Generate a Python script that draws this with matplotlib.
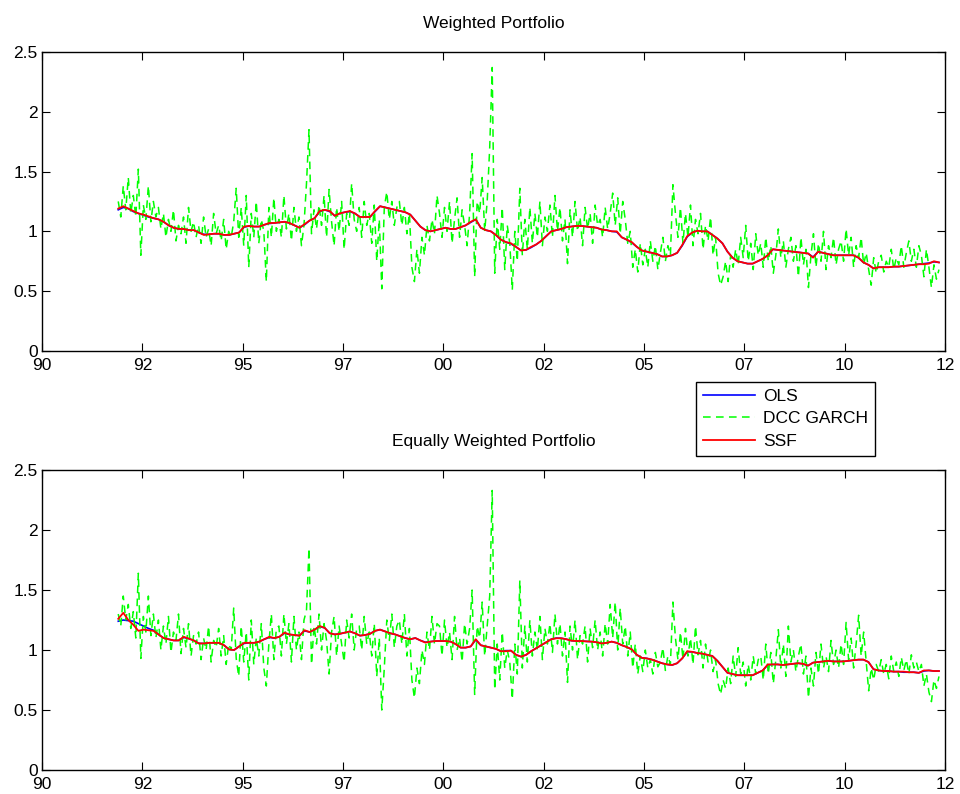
import numpy as np
import matplotlib
matplotlib.use('Agg')
import matplotlib.pyplot as plt

plt.rcParams['font.family'] = ['Liberation Sans', 'DejaVu Sans']
plt.rcParams['font.size'] = 12.5

# hedge ratio estimates, sampled from late 1991 to mid 2012
start, end = 1991.9, 2012.35

# weighted portfolio
ols_w = [1.18, 1.20, 1.19, 1.165, 1.15, 1.135, 1.12, 1.11,
         1.10, 1.08, 1.05, 1.03, 1.02, 1.02, 1.01, 1.01,
         0.99, 0.975, 0.975, 0.98, 0.98, 0.97, 0.97, 0.98,
         0.99, 1.035, 1.045, 1.04, 1.04, 1.055, 1.065, 1.07,
         1.075, 1.08, 1.07, 1.05, 1.03, 1.055, 1.09, 1.11,
         1.165, 1.18, 1.165, 1.13, 1.15, 1.16, 1.165, 1.15,
         1.12, 1.12, 1.12, 1.165, 1.21, 1.20, 1.19, 1.18,
         1.17, 1.16, 1.14, 1.09, 1.04, 1.01, 1.00, 1.01,
         1.02, 1.03, 1.02, 1.02, 1.035, 1.05, 1.075, 1.10,
         1.03, 1.01, 1.00, 0.97, 0.93, 0.91, 0.895, 0.87,
         0.84, 0.845, 0.865, 0.89, 0.92, 0.96, 1.00, 1.01,
         1.02, 1.035, 1.04, 1.045, 1.045, 1.04, 1.035, 1.03,
         1.015, 1.01, 1.00, 0.995, 0.95, 0.93, 0.905, 0.87,
         0.84, 0.83, 0.82, 0.81, 0.79, 0.79, 0.80, 0.82,
         0.88, 0.955, 0.99, 1.005, 1.00, 1.00, 0.97, 0.94,
         0.90, 0.83, 0.78, 0.75, 0.74, 0.73, 0.73, 0.75,
         0.77, 0.80, 0.85, 0.845, 0.84, 0.835, 0.83, 0.825,
         0.82, 0.815, 0.785, 0.83, 0.82, 0.81, 0.80, 0.80,
         0.80, 0.80, 0.80, 0.78, 0.74, 0.72, 0.69, 0.70,
         0.70, 0.70, 0.705, 0.705, 0.71, 0.715, 0.72, 0.725,
         0.73, 0.735, 0.745, 0.74]

ssf_w = [1.19, 1.21, 1.19, 1.17, 1.15, 1.14, 1.125, 1.11,
         1.10, 1.08, 1.05, 1.03, 1.02, 1.02, 1.01, 1.01,
         0.99, 0.97, 0.975, 0.98, 0.98, 0.97, 0.97, 0.98,
         0.99, 1.04, 1.045, 1.04, 1.04, 1.055, 1.07, 1.07,
         1.075, 1.08, 1.07, 1.05, 1.03, 1.06, 1.09, 1.11,
         1.17, 1.18, 1.17, 1.13, 1.15, 1.16, 1.17, 1.15,
         1.12, 1.12, 1.12, 1.17, 1.21, 1.20, 1.19, 1.18,
         1.17, 1.16, 1.14, 1.09, 1.04, 1.01, 1.00, 1.01,
         1.02, 1.03, 1.02, 1.02, 1.035, 1.05, 1.08, 1.10,
         1.03, 1.01, 1.00, 0.97, 0.93, 0.91, 0.90, 0.87,
         0.84, 0.845, 0.87, 0.89, 0.92, 0.96, 1.00, 1.01,
         1.02, 1.035, 1.04, 1.045, 1.045, 1.04, 1.035, 1.03,
         1.015, 1.01, 1.00, 1.00, 0.95, 0.93, 0.91, 0.87,
         0.84, 0.83, 0.82, 0.81, 0.79, 0.79, 0.80, 0.82,
         0.885, 0.96, 0.99, 1.005, 1.00, 1.00, 0.97, 0.94,
         0.90, 0.83, 0.78, 0.75, 0.74, 0.73, 0.73, 0.75,
         0.77, 0.80, 0.85, 0.845, 0.84, 0.835, 0.83, 0.825,
         0.82, 0.815, 0.78, 0.83, 0.82, 0.81, 0.80, 0.80,
         0.80, 0.80, 0.80, 0.78, 0.74, 0.72, 0.69, 0.70,
         0.70, 0.70, 0.705, 0.705, 0.71, 0.715, 0.72, 0.725,
         0.725, 0.73, 0.75, 0.74]

dcc_w = [1.25, 1.12, 1.38, 1.18, 1.45, 1.15, 1.30, 1.12, 1.52, 0.80, 1.22, 1.10, 1.38, 1.08, 1.25, 1.12,
         1.20, 1.02, 1.15, 0.95, 1.10, 1.00, 1.18, 0.92, 1.05, 0.98, 1.12, 0.90, 1.20, 1.00, 1.08, 0.95,
         1.05, 0.90, 1.12, 0.95, 1.02, 0.88, 1.15, 0.98, 1.05, 0.92, 1.10, 0.85, 1.00, 0.95, 1.08, 1.36,
         0.95, 1.20, 0.88, 1.30, 0.70, 1.15, 0.95, 1.25, 0.90, 1.10, 1.00, 0.58, 1.20, 0.95, 1.28, 1.00,
         1.10, 0.95, 1.30, 1.02, 1.15, 0.92, 1.20, 1.00, 1.12, 0.88, 1.05, 1.40, 1.85, 0.98, 1.18, 1.02,
         1.22, 1.05, 1.30, 0.95, 1.35, 1.08, 0.88, 1.20, 1.00, 1.25, 0.85, 1.15, 1.05, 1.40, 1.10, 1.00,
         1.20, 0.95, 1.25, 1.05, 1.15, 0.90, 1.22, 0.75, 1.10, 0.52, 1.20, 1.33, 1.10, 1.25, 1.05, 1.20,
         1.25, 1.05, 1.20, 0.98, 1.15, 0.70, 0.58, 0.85, 0.65, 0.95, 0.80, 1.05, 0.92, 1.10, 0.98, 1.30,
         1.15, 0.95, 1.20, 1.00, 1.25, 0.90, 1.10, 1.28, 0.95, 1.18, 1.05, 0.88, 1.15, 1.65, 0.62, 1.25,
         1.15, 1.45, 1.00, 1.25, 1.70, 2.37, 0.65, 1.10, 0.85, 1.20, 0.68, 1.05, 0.90, 0.51, 1.00, 0.75,
         1.36, 0.80, 1.10, 0.85, 1.20, 0.90, 1.15, 0.95, 1.25, 0.88, 1.12, 1.00, 1.22, 0.95, 1.30, 1.00,
         1.20, 0.92, 1.10, 0.73, 1.18, 0.95, 1.25, 1.00, 1.12, 0.88, 1.20, 1.02, 1.15, 0.90, 1.22, 1.05,
         1.10, 0.95, 1.20, 1.02, 1.15, 1.32, 1.05, 1.28, 0.98, 1.25, 1.10, 0.90, 1.00, 0.70, 0.85, 0.66,
         0.90, 0.72, 0.85, 0.70, 0.92, 0.75, 0.88, 0.68, 0.82, 0.95, 0.75, 0.88, 0.80, 1.39, 1.15, 0.95,
         1.20, 0.90, 1.15, 0.95, 1.22, 0.88, 1.10, 0.98, 1.15, 0.85, 1.05, 0.92, 1.12, 0.80, 0.95, 0.65,
         0.55, 0.62, 0.75, 0.58, 0.80, 0.70, 0.85, 0.72, 0.95, 0.78, 1.05, 0.75, 0.90, 0.68, 0.98, 0.80,
         0.90, 0.70, 0.95, 0.75, 0.88, 0.65, 0.80, 1.02, 0.78, 0.92, 0.70, 0.85, 0.95, 0.75, 0.88, 0.62,
         0.95, 0.72, 0.85, 0.53, 0.80, 0.98, 0.70, 0.90, 0.75, 1.00, 0.68, 0.88, 0.78, 0.95, 0.72, 0.85,
         0.92, 0.75, 1.02, 0.80, 0.95, 0.70, 0.88, 0.78, 0.95, 0.72, 0.82, 0.68, 0.55, 0.78, 0.65, 0.75,
         0.80, 0.66, 0.75, 0.70, 0.85, 0.68, 0.78, 0.72, 0.88, 0.70, 0.82, 0.92, 0.75, 0.85, 0.70, 0.88,
         0.80, 0.62, 0.85, 0.70, 0.53, 0.72, 0.60, 0.68]

# equally weighted portfolio
ols_e = [1.24, 1.25, 1.245, 1.24, 1.22, 1.20, 1.18, 1.165,
         1.13, 1.10, 1.09, 1.08, 1.08, 1.105, 1.095, 1.08,
         1.055, 1.055, 1.06, 1.06, 1.06, 1.04, 1.005, 1.00,
         1.03, 1.055, 1.06, 1.06, 1.07, 1.09, 1.105, 1.10,
         1.11, 1.14, 1.13, 1.125, 1.12, 1.16, 1.15, 1.17,
         1.195, 1.185, 1.14, 1.13, 1.135, 1.145, 1.155, 1.14,
         1.12, 1.125, 1.135, 1.16, 1.17, 1.155, 1.14, 1.13,
         1.115, 1.10, 1.09, 1.10, 1.08, 1.065, 1.07, 1.075,
         1.075, 1.075, 1.07, 1.05, 1.02, 1.02, 1.03, 1.085,
         1.04, 1.03, 1.02, 1.01, 0.99, 0.995, 0.995, 0.96,
         0.945, 0.96, 0.99, 1.015, 1.04, 1.065, 1.09, 1.10,
         1.098, 1.09, 1.078, 1.075, 1.075, 1.072, 1.07, 1.065,
         1.055, 1.06, 1.07, 1.06, 1.04, 1.025, 1.005, 0.96,
         0.935, 0.93, 0.92, 0.905, 0.89, 0.88, 0.875, 0.89,
         0.93, 0.985, 0.985, 0.975, 0.97, 0.96, 0.95, 0.91,
         0.86, 0.81, 0.80, 0.79, 0.79, 0.79, 0.79, 0.81,
         0.83, 0.875, 0.88, 0.88, 0.875, 0.88, 0.885, 0.89,
         0.885, 0.87, 0.895, 0.90, 0.905, 0.91, 0.905, 0.905,
         0.905, 0.91, 0.915, 0.92, 0.92, 0.90, 0.84, 0.83,
         0.825, 0.825, 0.82, 0.82, 0.815, 0.815, 0.815, 0.81,
         0.825, 0.83, 0.825, 0.825]

ssf_e = [1.26, 1.31, 1.25, 1.21, 1.16, 1.17, 1.165, 1.16,
         1.13, 1.10, 1.09, 1.08, 1.08, 1.11, 1.095, 1.08,
         1.055, 1.055, 1.06, 1.06, 1.06, 1.04, 1.005, 1.00,
         1.03, 1.06, 1.06, 1.06, 1.07, 1.09, 1.11, 1.10,
         1.11, 1.145, 1.13, 1.125, 1.12, 1.165, 1.15, 1.17,
         1.20, 1.185, 1.14, 1.13, 1.135, 1.145, 1.155, 1.14,
         1.12, 1.125, 1.135, 1.16, 1.17, 1.155, 1.14, 1.13,
         1.115, 1.10, 1.09, 1.10, 1.08, 1.062, 1.07, 1.075,
         1.075, 1.075, 1.07, 1.05, 1.02, 1.02, 1.03, 1.09,
         1.04, 1.03, 1.02, 1.01, 0.99, 0.99, 0.995, 0.96,
         0.945, 0.96, 0.99, 1.015, 1.04, 1.065, 1.09, 1.098,
         1.098, 1.09, 1.078, 1.075, 1.075, 1.072, 1.07, 1.065,
         1.055, 1.06, 1.07, 1.06, 1.04, 1.025, 1.005, 0.96,
         0.935, 0.93, 0.92, 0.905, 0.89, 0.88, 0.875, 0.89,
         0.93, 0.99, 0.985, 0.975, 0.97, 0.96, 0.95, 0.91,
         0.86, 0.81, 0.80, 0.79, 0.79, 0.79, 0.79, 0.81,
         0.83, 0.88, 0.88, 0.88, 0.875, 0.88, 0.885, 0.89,
         0.885, 0.87, 0.895, 0.90, 0.905, 0.91, 0.905, 0.905,
         0.905, 0.91, 0.915, 0.92, 0.92, 0.90, 0.84, 0.83,
         0.825, 0.825, 0.82, 0.82, 0.82, 0.815, 0.815, 0.81,
         0.83, 0.83, 0.825, 0.825]

dcc_e = [1.30, 1.20, 1.45, 1.25, 1.38, 1.18, 1.32, 1.10, 1.64, 0.93, 1.28, 1.15, 1.45, 1.12, 1.30, 1.10,
         1.25, 1.00, 1.20, 1.05, 1.28, 0.98, 1.15, 1.08, 1.30, 0.97, 1.18, 1.02, 1.22, 0.95, 1.12, 1.05,
         1.15, 0.92, 1.10, 1.00, 1.20, 0.90, 1.08, 1.02, 1.18, 0.95, 1.12, 0.88, 1.05, 1.00, 1.35, 0.93,
         0.78, 1.20, 0.90, 1.15, 0.75, 1.25, 0.88, 1.10, 0.95, 1.22, 0.85, 0.70, 1.05, 1.30, 0.92, 1.18,
         1.20, 0.95, 1.30, 1.05, 1.22, 0.90, 1.28, 1.00, 1.15, 0.92, 1.25, 1.33, 1.85, 0.88, 1.20, 1.05,
         1.30, 1.00, 1.22, 1.08, 0.80, 1.15, 1.28, 0.95, 1.20, 1.05, 0.90, 1.25, 1.10, 1.30, 1.00, 1.18,
         1.20, 1.00, 1.28, 1.05, 1.15, 0.95, 1.22, 0.78, 1.10, 0.50, 0.85, 1.25, 1.08, 1.30, 1.02, 1.20,
         1.25, 1.05, 1.30, 0.95, 1.18, 0.75, 0.60, 0.85, 0.72, 1.00, 0.88, 1.15, 1.00, 1.28, 1.05, 1.22,
         1.20, 0.95, 1.25, 1.02, 1.15, 0.92, 1.28, 1.00, 1.10, 0.90, 1.22, 1.05, 1.18, 1.50, 0.63, 1.20,
         1.10, 1.40, 0.95, 1.20, 1.45, 2.33, 0.67, 1.05, 0.75, 1.15, 0.85, 1.00, 0.90, 0.59, 1.05, 0.80,
         1.58, 0.85, 1.20, 0.90, 1.25, 0.95, 1.15, 1.00, 1.28, 0.92, 1.18, 1.05, 1.22, 0.98, 1.30, 1.05,
         1.22, 0.95, 1.15, 0.73, 1.20, 1.00, 1.25, 0.92, 1.12, 1.05, 1.20, 0.90, 1.18, 1.02, 1.25, 1.00,
         1.15, 0.95, 1.22, 1.05, 1.38, 1.10, 1.40, 1.00, 1.35, 1.05, 1.20, 0.95, 1.15, 0.85, 1.05, 0.80,
         0.95, 0.82, 1.00, 0.85, 0.92, 0.80, 0.98, 0.86, 0.90, 1.02, 0.83, 0.95, 0.88, 1.40, 1.10, 0.92,
         1.15, 0.92, 1.18, 0.95, 1.10, 0.88, 1.20, 0.96, 1.08, 0.85, 1.05, 0.90, 1.00, 0.82, 0.92, 0.72,
         0.63, 0.75, 0.68, 0.85, 0.72, 0.95, 0.78, 1.02, 0.80, 0.90, 0.70, 0.88, 0.75, 0.95, 0.80, 0.92,
         0.95, 0.75, 1.05, 0.80, 0.98, 0.72, 0.92, 1.17, 0.85, 1.05, 0.78, 1.20, 0.90, 1.00, 0.82, 0.95,
         1.05, 0.80, 0.95, 0.60, 0.85, 0.70, 0.98, 0.80, 1.05, 0.85, 0.95, 0.82, 1.08, 0.88, 1.00, 0.85,
         1.05, 0.88, 1.23, 0.92, 1.10, 0.85, 1.05, 1.29, 0.95, 1.15, 0.90, 0.66, 0.85, 0.75, 0.88, 0.82,
         0.92, 0.80, 0.88, 0.76, 0.95, 0.82, 0.90, 0.78, 0.94, 0.83, 0.92, 0.80, 0.96, 0.85, 0.90, 0.82,
         0.88, 0.70, 0.80, 0.65, 0.57, 0.75, 0.68, 0.78]

xticks = [1990, 1992.5, 1995, 1997.5, 2000, 2002.5, 2005, 2007.5, 2010, 2012.5]
xticklabels = ['90', '92', '95', '97', '00', '02', '05', '07', '10', '12']
yticks = [0, 0.5, 1, 1.5, 2, 2.5]
yticklabels = ['0', '0.5', '1', '1.5', '2', '2.5']

fig = plt.figure(figsize=(9.6, 7.94), dpi=100)
ax1 = fig.add_axes([0.04375, 0.558, 0.9406, 0.3766])
ax2 = fig.add_axes([0.04375, 0.0302, 0.9406, 0.3778])


def draw(ax, ols, dcc, ssf, title):
    t_s = np.linspace(start, end, len(ssf))
    t_d = np.linspace(start, end, len(dcc))
    ax.plot(t_s, ols, color='b', lw=1.2, label='OLS')
    ax.plot(t_d, dcc, color=(0, 1, 0), lw=1.1, dashes=(5, 3.5), label='DCC GARCH')
    ax.plot(t_s, ssf, color='r', lw=1.3, label='SSF')
    ax.set_xlim(1990, 2012.5)
    ax.set_ylim(0, 2.5)
    ax.set_xticks(xticks)
    ax.set_xticklabels(xticklabels)
    ax.set_yticks(yticks)
    ax.set_yticklabels(yticklabels)
    ax.tick_params(direction='in', top=True, right=True, length=6, width=0.8, pad=3)
    ax.tick_params(axis='x', pad=5)
    for s in ax.spines.values():
        s.set_linewidth(1.0)
    ax.set_title(title, pad=17, fontsize=12.5)


draw(ax1, ols_w, dcc_w, ssf_w, 'Weighted Portfolio')
draw(ax2, ols_e, dcc_e, ssf_e, 'Equally Weighted Portfolio')

handles, labels = ax2.get_legend_handles_labels()
fig.legend(handles, labels, loc='upper left', bbox_to_anchor=(0.725, 0.519),
           frameon=True, fancybox=False, edgecolor='k', framealpha=1,
           borderaxespad=0, handlelength=3.0, handletextpad=0.45,
           labelspacing=0.42, borderpad=0.4, fontsize=12.5)

fig.savefig('out.png', dpi=100)
